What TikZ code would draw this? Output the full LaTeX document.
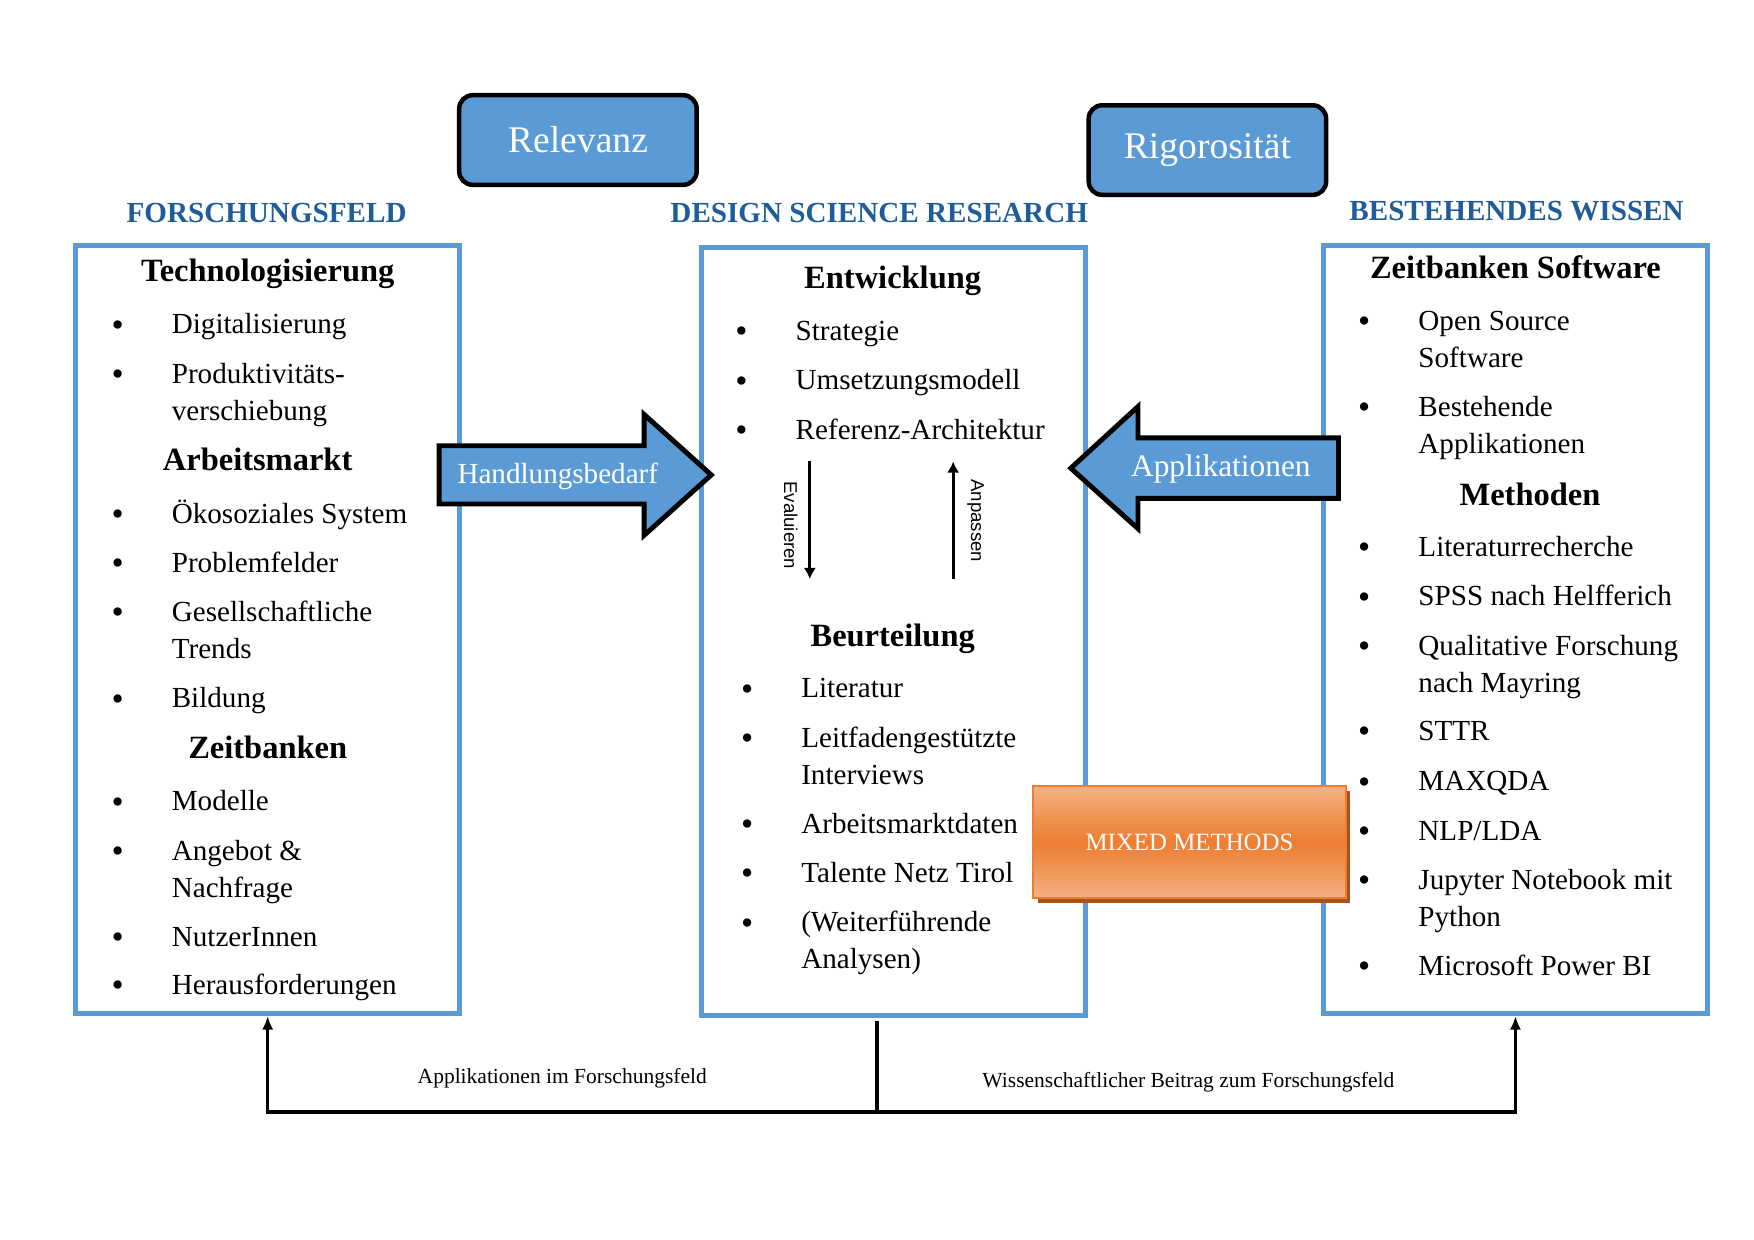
\documentclass[tikz,border=0pt]{standalone}
\usepackage{fontspec}
\setmainfont{Liberation Serif}
\newfontfamily\arialfont{Liberation Sans}
\usetikzlibrary{arrows.meta,shadows}
\definecolor{boxblue}{HTML}{5B9BD5}
\definecolor{headblue}{HTML}{1F5C9A}
\definecolor{mmorange}{HTML}{ED7D31}
\definecolor{mmlight}{HTML}{F4B183}
\definecolor{mmshadow}{HTML}{A9531C}
\tikzset{
  feld/.style={draw=boxblue,line width=2.2pt,inner sep=0pt,minimum width=171.5pt,minimum height=343pt},
  titel/.style={font=\bfseries\fontsize{13}{15}\selectfont,text=headblue,anchor=base},
  kopf/.style={font=\bfseries\fontsize{14.5}{17}\selectfont,anchor=base},
  punkt/.style={font=\fontsize{13}{16.5}\selectfont,anchor=base west,align=left,inner sep=0pt},
  bul/.style={font=\fontsize{15.5}{16.5}\selectfont,anchor=base,inner sep=0pt,yshift=-1pt},
  pfeil/.style={draw=black,line width=2.2pt,fill=boxblue,line join=miter},
  knopf/.style={draw=black,line width=2pt,fill=boxblue,rounded corners=6pt,text=white,
    font=\fontsize{16.8}{19}\selectfont,minimum width=106pt,minimum height=40pt},
  verbind/.style={line width=1.6pt,line join=miter},
  duenn/.style={line width=1.4pt,-{Latex[length=5pt,width=5.5pt]}},
  klein/.style={font=\fontsize{9.6}{11}\selectfont},
  schmal/.style={font=\arialfont\fontsize{8.3}{10}\selectfont,rotate=-90},
}
\begin{document}
\begin{tikzpicture}[x=0.5pt,y=-0.5pt]
\useasboundingbox (0,0) rectangle (1566,1107);
% oben
\node[knopf] (rel) at (516,125) {Relevanz};
\node[knopf] (rig) at (1078,134) {Rigorosität};
\node[titel] (t-feld) at (238,199) {FORSCHUNGSFELD};
\node[titel] (t-dsr) at (785,199) {DESIGN SCIENCE RESEARCH};
\node[titel] (t-wissen) at (1354,197) {BESTEHENDES WISSEN};
% die drei Kaesten
\node[feld] (links) at (239,562) {};
\node[feld] (mitte) at (798,564) {};
\node[feld] (rechts) at (1353,562) {};
% Forschungsfeld
\node[kopf] (k-tech) at (239,251) {Technologisierung};
\node[kopf] (k-arbeit) at (230,420) {Arbeitsmarkt};
\node[kopf] (k-zeit) at (239,677) {Zeitbanken};
\foreach \y/\d/\t [count=\i] in {298/0/Digitalisierung, 342/33/{Produktivitäts-\\verschiebung},
    467/0/Ökosoziales System, 511/0/Problemfelder, 555/33/{Gesellschaftliche\\Trends}, 632/0/Bildung,
    724/0/Modelle, 768/33/{Angebot \&\\Nachfrage}, 845/0/NutzerInnen, 888/0/Herausforderungen}{
  \node[bul] (lb\i) at (105,\y) {\textbullet};
  \node[punkt] (l\i) at (153,\y+\d) {\t};
}
% Design Science Research
\node[kopf] (k-entw) at (797,258) {Entwicklung};
\node[kopf] (k-beurt) at (797,577) {Beurteilung};
\foreach \y/\t [count=\i] in {304/Strategie, 348/Umsetzungsmodell, 392/Referenz-Architektur}{
  \node[bul] (mb\i) at (662,\y) {\textbullet};
  \node[punkt] (m\i) at (710,\y) {\t};
}
\foreach \y/\d/\t [count=\i] in {623/0/Literatur, 667/33/{Leitfadengestützte\\Interviews}, 744/0/Arbeitsmarktdaten,
    788/0/Talente Netz Tirol, 832/33/{(Weiterführende\\Analysen)}}{
  \node[bul] (nb\i) at (667,\y) {\textbullet};
  \node[punkt] (n\i) at (715,\y+\d) {\t};
}
\coordinate (ev-a) at (723,412);
\coordinate (ev-b) at (723,517);
\coordinate (an-a) at (851,517);
\coordinate (an-b) at (851,412);
\draw[duenn] (ev-a) -- (ev-b);
\draw[duenn] (an-a) -- (an-b);
\node[schmal] (ev) at (706,469) {Evaluieren};
\node[schmal] (an) at (871,465) {Anpassen};
% Bestehendes Wissen
\node[kopf] (k-soft) at (1353,249) {Zeitbanken Software};
\node[kopf] (k-meth) at (1366,451) {Methoden};
\foreach \y/\d/\t [count=\i] in {295/33/{Open Source\\Software}, 372/33/{Bestehende\\Applikationen},
    497/0/Literaturrecherche, 541/0/SPSS nach Helfferich, 585/33/{Qualitative Forschung\\nach Mayring},
    661/0/STTR, 706/0/MAXQDA, 750/0/{NLP/LDA}, 794/33/{Jupyter Notebook mit\\Python}, 871/0/Microsoft Power BI}{
  \node[bul] (rb\i) at (1218,\y) {\textbullet};
  \node[punkt] (r\i) at (1266,\y+\d) {\t};
}
% grosse Pfeile
\draw[pfeil] (392,398) -- (575,398) -- (575,370) -- (635,424) -- (575,478) -- (575,450) -- (392,450) -- cycle;
\node[text=white,font=\fontsize{13}{15}\selectfont] (handl) at (498,425) {Handlungsbedarf};
\draw[pfeil] (1195,391) -- (1016,391) -- (1016,363) -- (956,418) -- (1016,472) -- (1016,445) -- (1195,445) -- cycle;
\node[text=white,font=\fontsize{14}{16}\selectfont] (appl) at (1090,419) {Applikationen};
% Mixed Methods
\node[draw=mmorange,line width=0.8pt,top color=mmlight,bottom color=mmlight,middle color=mmorange,
  minimum width=139.5pt,minimum height=50pt,text=white,font=\fontsize{11.1}{13}\selectfont,
  drop shadow={shadow xshift=2pt,shadow yshift=-2pt,fill=mmshadow,opacity=1}] (mixed) at (1062,752) {MIXED METHODS};
% unten
\coordinate (gabel) at (783,993);
\draw[verbind] ([yshift=-1pt]gabel |- mitte.south) -- (gabel);
\draw[verbind,-{Latex[length=6pt,width=5pt]}] (gabel) -| (links.south);
\draw[verbind,-{Latex[length=6pt,width=5pt]}] (gabel) -| (rechts.south);
\node[klein] (b-app) at (502,963) {Applikationen im Forschungsfeld};
\node[klein] (b-beitrag) at (1061,966) {Wissenschaftlicher Beitrag zum Forschungsfeld};
\end{tikzpicture}
\end{document}
